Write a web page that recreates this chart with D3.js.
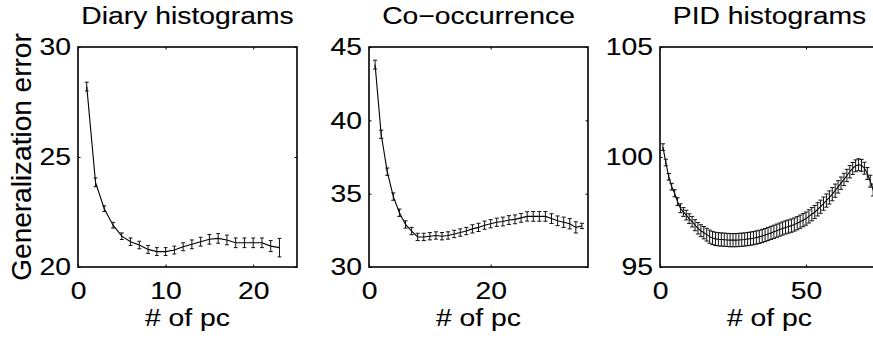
<!DOCTYPE html>
<html>
<head>
<meta charset="utf-8">
<script src="https://cdn.jsdelivr.net/npm/d3@7"></script>
<style>
    body { margin: 0; background: #fff; }
    svg { display: block; }
    text { font-family: "Liberation Sans", Arial, sans-serif; fill: #000; stroke: #000; stroke-width: 0.12px; }
</style>
</head>
<body>
<div id="chart"></div>
<script>
// Values (x = 1..n principal components)
const diaryValues = [28.2, 23.85, 22.65, 21.9, 21.4, 21.15, 21.0, 20.8, 20.7, 20.7, 20.77, 20.92,
    21.03, 21.15, 21.26, 21.3, 21.23, 21.1, 21.1, 21.1, 21.1, 20.95, 20.88];
const diaryErrors = [0.2, 0.2, 0.13, 0.13, 0.15, 0.17, 0.17, 0.18, 0.18, 0.18, 0.18, 0.18,
    0.2, 0.2, 0.22, 0.22, 0.22, 0.22, 0.22, 0.22, 0.22, 0.25, 0.42];

const coocValues = [43.8, 39.05, 36.5, 34.8, 33.7, 32.9, 32.45, 32.05, 32.05, 32.1, 32.15, 32.1,
    32.15, 32.25, 32.35, 32.45, 32.6, 32.7, 32.85, 32.95, 33.05, 33.1, 33.2, 33.25,
    33.35, 33.45, 33.45, 33.45, 33.45, 33.3, 33.15, 33.05, 32.95, 32.7, 32.8];
const coocErrors = [0.3, 0.28, 0.25, 0.25, 0.25, 0.25, 0.25, 0.25, 0.25, 0.25, 0.25, 0.25,
    0.25, 0.25, 0.25, 0.25, 0.28, 0.28, 0.28, 0.28, 0.28, 0.3, 0.3, 0.3,
    0.3, 0.32, 0.33, 0.33, 0.33, 0.33, 0.33, 0.35, 0.35, 0.38, 0.18];

const pidValues = [100.45, 99.75, 99.1, 98.65, 98.35, 97.97, 97.67, 97.5, 97.36, 97.2,
    97.06, 96.9, 96.76, 96.65, 96.56, 96.47, 96.38, 96.32, 96.28, 96.26,
    96.25, 96.24, 96.23, 96.22, 96.22, 96.22, 96.23, 96.24, 96.25, 96.27,
    96.29, 96.31, 96.34, 96.37, 96.41, 96.45, 96.5, 96.55, 96.6, 96.65,
    96.7, 96.75, 96.8, 96.84, 96.88, 96.93, 96.99, 97.06, 97.13, 97.2,
    97.3, 97.4, 97.5, 97.62, 97.74, 97.88, 98.02, 98.16, 98.31, 98.47,
    98.64, 98.81, 98.98, 99.16, 99.33, 99.48, 99.6, 99.65, 99.62, 99.49,
    99.25, 98.9, 98.5, 98.1];
const pidErrors = [0.15, 0.15, 0.15, 0.15, 0.16, 0.18, 0.2, 0.2, 0.22, 0.22,
    0.24, 0.25, 0.26, 0.27, 0.28, 0.29, 0.3, 0.3, 0.3, 0.3,
    0.3, 0.3, 0.3, 0.3, 0.3, 0.3, 0.3, 0.3, 0.3, 0.3,
    0.3, 0.3, 0.3, 0.3, 0.3, 0.3, 0.3, 0.3, 0.3, 0.3,
    0.3, 0.3, 0.3, 0.3, 0.3, 0.3, 0.3, 0.3, 0.3, 0.3,
    0.3, 0.3, 0.3, 0.3, 0.3, 0.3, 0.3, 0.3, 0.3, 0.3,
    0.28, 0.28, 0.28, 0.28, 0.28, 0.27, 0.27, 0.27, 0.27, 0.27,
    0.27, 0.27, 0.27, 0.27];

const panelTitles = ['Diary histograms', 'Co\u2212occurrence', 'PID histograms'];
const xDomains = [[0, 25], [0, 36], [0, 75]];
const yDomains = [[20, 30], [30, 45], [95, 105]];
const xTickValues = [[0, 10, 20], [0, 20], [0, 50]];
const yTickValues = [[20, 25, 30], [30, 35, 40, 45], [95, 100, 105]];
const xLabel = '# of pc';
const yLabel = 'Generalization error';

const series = [
    { values: diaryValues, errors: diaryErrors },
    { values: coocValues, errors: coocErrors },
    { values: pidValues, errors: pidErrors }
];

const width = 873, height = 338;
const panelLefts = [78, 369, 660];
const panelWidth = 219;
const plotTop = 47, plotHeight = 220;
const fontSize = 24;
const sx = 1.18;   // reference text is drawn wider than tall
const tickLen = 2.5;

const svg = d3.select('#chart')
    .append('svg')
    .attr('width', width)
    .attr('height', height);

function wideText(parent, x, y, str, anchor) {
    return parent.append('text')
        .attr('transform', `translate(${x},${y}) scale(${sx},1)`)
        .attr('text-anchor', anchor)
        .attr('font-size', fontSize + 'px')
        .text(str);
}

series.forEach((s, p) => {
    const g = svg.append('g')
        .attr('transform', `translate(${panelLefts[p]},${plotTop})`);

    const x = d3.scaleLinear().domain(xDomains[p]).range([0, panelWidth]);
    const y = d3.scaleLinear().domain(yDomains[p]).range([plotHeight, 0]);

    const pts = s.values.map((v, i) => ({ x: i + 1, v, e: s.errors[i] }));
    const tee = (pts.length - 1) / 100;   // errorbar cap half-width in data units

    // data line
    g.append('path')
        .datum(pts)
        .attr('fill', 'none')
        .attr('stroke', '#000')
        .attr('stroke-width', 1.1)
        .attr('d', d3.line().x(d => x(d.x)).y(d => y(d.v)));

    // error bars
    const eb = g.append('g')
        .attr('stroke', '#111')
        .attr('stroke-width', 1);
    pts.forEach(d => {
        eb.append('line')
            .attr('x1', x(d.x)).attr('x2', x(d.x))
            .attr('y1', y(d.v - d.e)).attr('y2', y(d.v + d.e));
        eb.append('line')
            .attr('x1', x(d.x - tee)).attr('x2', x(d.x + tee))
            .attr('y1', y(d.v - d.e)).attr('y2', y(d.v - d.e));
        eb.append('line')
            .attr('x1', x(d.x - tee)).attr('x2', x(d.x + tee))
            .attr('y1', y(d.v + d.e)).attr('y2', y(d.v + d.e));
    });

    // axes with inward ticks on all four sides
    const left = g.append('g')
        .call(d3.axisLeft(y).tickValues(yTickValues[p]).tickSize(-tickLen).tickSizeOuter(0).tickPadding(6));
    g.append('g')
        .attr('transform', `translate(${panelWidth},0)`)
        .call(d3.axisRight(y).tickValues(yTickValues[p]).tickSize(-tickLen).tickSizeOuter(0).tickFormat(''));
    const bottom = g.append('g')
        .attr('transform', `translate(0,${plotHeight})`)
        .call(d3.axisBottom(x).tickValues(xTickValues[p]).tickSize(-tickLen).tickSizeOuter(0).tickPadding(15));
    g.append('g')
        .call(d3.axisTop(x).tickValues(xTickValues[p]).tickSize(-tickLen).tickSizeOuter(0).tickFormat(''));

    g.selectAll('.domain').remove();
    g.selectAll('.tick line').attr('stroke', '#000').attr('stroke-width', 1);

    [left, bottom].forEach(a => a.selectAll('text')
        .attr('font-size', fontSize + 'px')
        .attr('font-family', '"Liberation Sans", Arial, sans-serif')
        .attr('fill', '#000')
        .attr('transform', `scale(${sx},1)`));

    // box
    g.append('rect')
        .attr('x', 0).attr('y', 0)
        .attr('width', panelWidth).attr('height', plotHeight)
        .attr('fill', 'none')
        .attr('stroke', '#000')
        .attr('stroke-width', 1.6);

    wideText(svg, panelLefts[p] + panelWidth / 2, 24, panelTitles[p], 'middle');
    wideText(svg, panelLefts[p] + panelWidth / 2, 326, xLabel, 'middle');
});

svg.append('text')
    .attr('transform', `translate(31,${plotTop + plotHeight / 2}) rotate(-90)`)
    .attr('text-anchor', 'middle')
    .attr('font-size', '28px')
    .text(yLabel);
</script>
</body>
</html>
